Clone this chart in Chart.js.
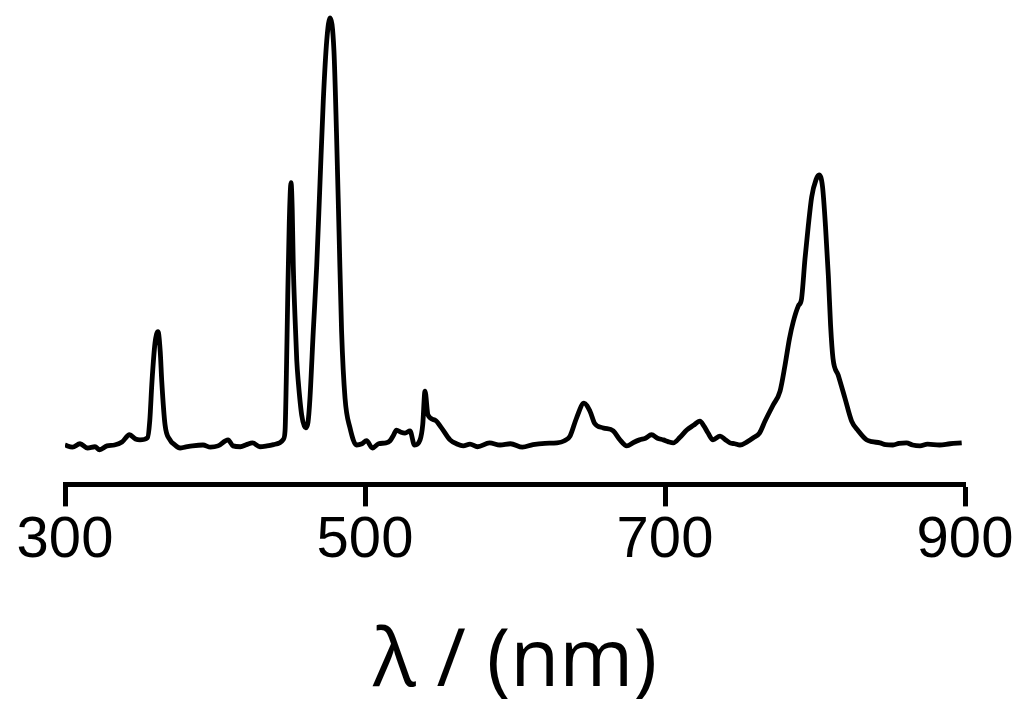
<!DOCTYPE html>
<html>
<head>
<meta charset="utf-8">
<script src="https://cdn.jsdelivr.net/npm/chart.js@4"></script>
<style>
  html, body { margin: 0; padding: 0; background: #ffffff; }
  #wrap { width: 1026px; height: 717px; }
</style>
</head>
<body>
<div id="wrap"><canvas id="c" width="1026" height="717"></canvas></div>
<script>
// Wavelength (nm) and relative emission intensity (a.u.)
const wavelengths = [
  300, 305, 310, 315, 320, 323, 328, 333, 338, 343, 347, 350, 355, 356.5, 358, 360, 362, 363.5, 364.5, 366.7,
  370, 373, 376.7, 380, 385, 392, 397, 402, 408.7, 412, 417, 421, 425, 430, 434.7, 439, 443, 445.5, 446.7, 447.5,
  448.5, 449.5, 450.7, 451.5, 452.2, 453.3, 454.5, 455.5, 457.8, 460.4, 462, 463.3, 465.5, 467.8, 470, 472.2, 474.5, 476.7, 479.3, 481,
  482.7, 484.4, 486.7, 490, 494.4, 498, 501, 505, 509, 514, 516.7, 519, 521, 524, 526.7, 530, 533, 536.7, 538.5, 540,
  542, 546.7, 551, 556.7, 561, 565.5, 570, 575, 583, 590, 597, 605, 612, 620, 628, 633, 636.7, 641, 646, 650,
  653, 658.9, 665.5, 670, 674.5, 679, 683, 687, 691, 695, 698.9, 702, 705.5, 710, 714.5, 719, 723.3, 726, 728.7, 732,
  736.7, 740, 743.3, 746.5, 750, 755, 758.9, 763, 766.7, 772, 776.7, 780, 783, 785.5, 788.9, 791, 793.3, 795.5, 797.8, 800.7,
  802.7, 805, 807, 808.9, 810.4, 812, 815.5, 820, 824.4, 828.9, 834.4, 838, 843.3, 847, 852, 856, 861, 865, 870, 875,
  883, 890, 897.8
];
const intensities = [
  0.2, -0.3, 0.5, -0.5, -0.2, -0.9, 0.0, 0.2, 0.9, 2.6, 1.6, 1.4, 1.9, 5.8, 15.1, 24.0, 26.7, 22.0, 15.1, 4.9,
  1.4, 0.3, -0.5, -0.3, 0.0, 0.2, -0.3, 0.0, 1.4, 0.0, -0.2, 0.3, 0.7, -0.2, 0.0, 0.3, 0.7, 1.5, 3.5, 15.0,
  35.0, 52.0, 61.5, 55.0, 42.0, 30.4, 20.0, 15.1, 7.2, 4.2, 5.5, 11.1, 26.7, 42.0, 61.5, 80.7, 94.7, 100.0, 92.3, 73.1,
  49.9, 26.7, 11.1, 4.2, 0.2, 0.5, 1.2, -0.5, 0.5, 0.7, 1.2, 2.5, 3.7, 3.2, 3.0, 3.5, 0.2, 1.4, 5.0, 12.8,
  7.2, 6.0, 4.2, 1.4, 0.5, 0.0, 0.4, -0.2, 0.7, 0.2, 0.5, -0.3, 0.3, 0.6, 0.7, 1.2, 2.3, 6.5, 10.0, 8.1,
  5.3, 4.2, 3.5, 1.4, 0.0, 0.8, 1.4, 1.8, 2.6, 1.8, 1.4, 1.0, 0.7, 2.0, 3.7, 4.8, 5.8, 4.6, 3.0, 1.4,
  2.3, 1.5, 0.7, 0.5, 0.2, 1.0, 1.9, 3.0, 5.8, 9.5, 12.8, 18.8, 25.1, 29.0, 32.7, 34.3, 43.6, 51.3, 58.2, 62.2,
  63.3, 60.6, 51.3, 39.7, 28.1, 20.4, 16.5, 11.1, 5.8, 3.5, 1.4, 1.0, 0.7, 0.3, 0.2, 0.6, 0.7, 0.2, 0.0, 0.4,
  0.2, 0.5, 0.7
];
const xTicks = [300, 500, 700, 900];
const xTitle = 'λ / (nm)';

const points = wavelengths.map((w, i) => ({ x: w, y: intensities[i] }));

new Chart(document.getElementById('c'), {
  type: 'line',
  data: {
    datasets: [{
      data: points,
      borderColor: '#000000',
      borderWidth: 4.8,
      pointRadius: 0,
      fill: false,
      cubicInterpolationMode: 'monotone'
    }]
  },
  options: {
    responsive: false,
    animation: false,
    events: [],
    layout: { padding: { left: 65, right: 61, top: 5, bottom: 6 } },
    plugins: { legend: { display: false }, tooltip: { enabled: false } },
    scales: {
      x: {
        type: 'linear',
        min: 300,
        max: 900,
        afterBuildTicks: (axis) => { axis.ticks = xTicks.map(v => ({ value: v })); },
        border: { display: true, color: '#000000', width: 5 },
        grid: { display: true, drawOnChartArea: false, drawTicks: true, tickLength: 22, tickWidth: 5, tickColor: '#000000' },
        ticks: {
          color: '#000000',
          padding: 0,
          maxRotation: 0,
          autoSkip: false,
          font: { family: '"Liberation Sans", Arial, sans-serif', size: 58 }
        },
        title: {
          display: true,
          text: xTitle,
          color: '#000000',
          padding: { top: 39, bottom: 0 },
          font: { family: '"Open Sans", sans-serif', size: 80 }
        }
      },
      y: {
        display: false,
        min: -9.0,
        max: 103
      }
    }
  }
});
</script>
</body>
</html>
